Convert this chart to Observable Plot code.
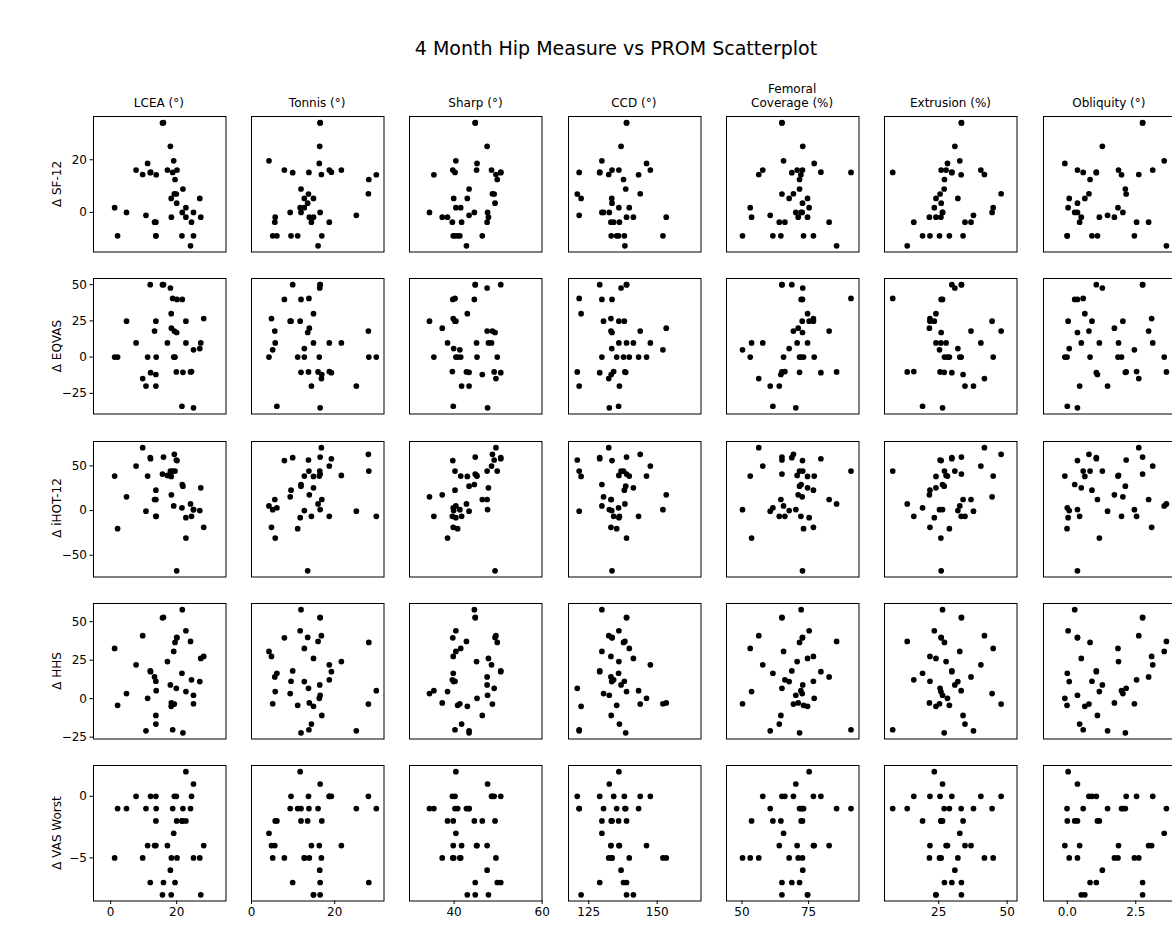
<!DOCTYPE html>
<html><head><meta charset="utf-8">
<script src="https://cdn.jsdelivr.net/npm/d3@7"></script>
<script src="https://cdn.jsdelivr.net/npm/@observablehq/plot@0.6"></script>
<style>
html,body{margin:0;padding:0;background:#fff;overflow:hidden;}
#chart{position:relative;width:1172px;height:928px;overflow:hidden;font-family:"DejaVu Sans",sans-serif;color:#000;}
.title{position:absolute;left:0;width:1232px;top:37px;text-align:center;font-size:19px;line-height:22px;}
.colhead{position:absolute;width:170px;text-align:center;font-size:12px;line-height:13.5px;}
.rowlab{position:absolute;font-size:12px;line-height:14px;white-space:nowrap;transform:translate(-50%,-50%) rotate(-90deg);}
</style></head><body><div id="chart"></div>
<script>
// ---- patient level data ----
const lcea      = [1.2,2.1,4.8,7.7,9.7,10.7,11.2,12.0,12.1,13.3,13.7,13.8,13.7,13.7,16.0,15.7,17.2,18.1,18.35,18.4,18.8,19.1,19.3,19.5,19.9,20.0,20.1,21.6,21.7,21.9,22.8,22.8,24.2,24.5,25.1,25.1,27.0,27.3,28.2];
const tonnis    = [12.7,11.1,9.3,18.7,16.8,25.2,16.3,9.9,19.2,5.6,9.5,30.0,16.9,14.4,16.5,16.5,21.6,16.4,14.9,13.9,13.8,4.2,28.1,28.2,13.7,13.5,7.9,6.1,11.9,11.9,11.7,5.7,16.0,18.7,16.5,5.1,12.7,14.9,4.8];
const sharp     = [41.5,40.8,34.4,48.5,49.5,43.4,45.2,50.6,50.6,47.5,40.2,35.4,46.4,41.7,44.8,44.8,45.1,47.5,43.0,37.3,40.2,40.4,48.7,49.8,49.1,49.3,39.7,39.8,44.6,43.4,40.4,38.5,42.8,39.6,47.6,41.3,39.9,47.8,39.8];
const ccd       = [139.8,135.2,130.4,147.5,132.3,121.5,146.1,129.0,129.0,133.1,138.0,143.2,133.2,136.2,138.8,138.8,136.0,136.8,122.2,153.3,121.5,129.8,143.8,137.7,120.8,133.5,133.5,135.9,129.8,138.5,136.0,138.8,138.2,134.1,132.5,152.1,133.4,141.3,133.1];
const femcov    = [53.1,73.1,72.6,57.8,56.3,60.6,77.1,68.7,79.6,82.7,76.8,72.1,64.6,64.0,65.0,65.0,70.7,72.8,74.6,71.1,90.9,65.6,69.3,71.6,65.0,72.7,72.7,61.6,72.2,71.6,75.2,53.6,85.5,66.1,70.2,50.2,67.7,74.6,76.8];
const extrusion = [44.9,28.9,44.5,40.4,41.7,37.7,28.2,29.8,29.8,36.8,21.8,33.2,33.9,34.6,33.3,33.3,27.7,30.9,24.0,21.6,8.2,32.7,47.8,27.1,25.5,25.9,25.9,19.1,26.4,27.0,23.4,25.8,13.5,15.9,26.4,25.3,32.0,24.0,21.8];
const obliquity = [1.85,-0.01,2.03,3.12,2.61,1.47,-0.09,1.06,1.06,2.97,0.9,1.98,1.1,0.45,2.75,2.75,1.87,1.28,0.64,1.72,0.58,3.54,0.79,0.83,2.15,0.37,0.37,0.0,0.27,2.12,0.03,1.17,3.62,2.53,0.37,2.45,0.07,0.51,3.08];
const sf12      = [1.8,-8.9,0,16.1,14.4,-1.1,18.6,15.1,15.3,-3.7,-8.9,14.3,-8.9,-3.7,34.1,34,16.1,25.1,5.3,-1.8,15.2,19.6,7.1,12.5,7.0,3.5,16.1,-8.9,0,8.9,1.8,-1.8,-12.7,-3.7,0,-8.9,5.3,-1.8,null];
const eqvas     = [0,0,24.8,9.8,-14.8,-20,0,50,-10.7,18,24.8,0,-12,-20,50,50,9.8,47.7,30,20,40.5,0,18,0,-10.2,17,39.8,-33.9,39.8,-10.5,24.8,9.8,-10.2,-10,-35,5,5.9,9.8,26.6];
const ihot12    = [38.6,-20.2,15.4,49.8,70.4,-0.7,38.6,59.2,58,12.4,22.8,-6.4,12.4,-6.4,59.9,40.8,39.3,44.2,38.2,17.6,44.2,5.2,62.9,44.2,56.6,-67.4,56,3,29.2,27.3,-7.9,-30.7,7.5,-6.4,1.1,1,0,25.5,-18.7];
const hhs       = [32.6,-4.3,3.3,22,40.9,-20.9,0.2,18,17.5,14.1,11.3,5.2,-10.9,-16.5,52.8,52.5,24.1,8.9,-5,-2.8,-20.2,30.7,-3.5,36.5,6.7,39.8,39.5,16.5,57.8,-22.2,44.1,4.6,37.2,12.2,2.2,-3.3,11.1,26.1,27.4];
const vasWorst  = [-5,-1,-1,0,-5,-1,-4,-7,0,-4,0,-1,-2,-4,-7,-8,-4,-6,-8,-5,-1,-3,0,-7,0,-2,-5,-2,-2,-1,2,-2,-1,0,1,-5,-5,-8,-4];

// ---- labels and ticks ----
const measureKeys   = ["lcea","tonnis","sharp","ccd","femcov","extrusion","obliquity"];
const measureLabels = ["LCEA (°)","Tonnis (°)","Sharp (°)","CCD (°)","Femoral\nCoverage (%)","Extrusion (%)","Obliquity (°)"];
const measureTicks  = [[0,20],[0,20],[40,60],[125,150],[50,75],[25,50],[0,2.5]];
const measureDomains= [[-5.2,34.95],[0,31.85],[29.86,59.97],[117.6,166.0],[44.2,93.9],[5.2,53.6],[-0.87,3.97]];
const promKeys      = ["sf12","eqvas","ihot12","hhs","vasWorst"];
const promLabels    = ["Δ SF-12","Δ EQVAS","Δ iHOT-12","Δ HHS","Δ VAS Worst"];
const promTicks     = [[0,20],[-25,0,25,50],[-50,0,50],[-25,0,25,50],[-5,0]];
const promDomains   = [[-15.04,36.44],[-39.25,54.25],[-74.3,77.3],[-26.2,61.8],[-8.5,2.5]];
const titleText     = "4 Month Hip Measure vs PROM Scatterplot";

const patients = lcea.map((v, i) => ({
  lcea: v, tonnis: tonnis[i], sharp: sharp[i], ccd: ccd[i], femcov: femcov[i],
  extrusion: extrusion[i], obliquity: obliquity[i],
  sf12: sf12[i], eqvas: eqvas[i], ihot12: ihot12[i], hhs: hhs[i], vasWorst: vasWorst[i]
}));

const chart = document.getElementById("chart");
const W = 132.5, H = 135.5;
const colLeft = c => 92.6 + c * 158.33;
const rowTop = r => 116 + r * 162.25;
const intFmt = d3.format("d");
const xFormats = measureKeys.map((k, c) => c === 6 ? d3.format(".1f") : d3.format("d"));

const t = document.createElement("div");
t.className = "title"; t.textContent = titleText; chart.appendChild(t);

measureLabels.forEach((lab, c) => {
  const d = document.createElement("div");
  d.className = "colhead";
  d.style.left = (colLeft(c) + W / 2 - 85) + "px";
  d.style.bottom = (928 - 110) + "px";
  d.innerHTML = lab.split("\n").join("<br>");
  chart.appendChild(d);
});
promLabels.forEach((lab, r) => {
  const d = document.createElement("div");
  d.className = "rowlab";
  d.style.left = "57px";
  d.style.top = (rowTop(r) + H / 2) + "px";
  d.textContent = lab;
  chart.appendChild(d);
});

for (let r = 0; r < 5; r++) {
  for (let c = 0; c < 7; c++) {
    const ML = c === 0 ? 45 : 2, MR = 2, MT = 2, MB = r === 4 ? 30 : 2;
    const svg = Plot.plot({
      width: W + ML + MR, height: H + MT + MB,
      marginLeft: ML, marginRight: MR, marginTop: MT, marginBottom: MB,
      style: {background: "transparent", fontFamily: "DejaVu Sans", fontSize: "12px", color: "#000", overflow: "visible"},
      x: {domain: measureDomains[c], axis: r === 4 ? "bottom" : null, ticks: measureTicks[c], tickFormat: xFormats[c], tickSize: 3.5, tickPadding: 3, label: null},
      y: {domain: promDomains[r], axis: c === 0 ? "left" : null, ticks: promTicks[r], tickFormat: intFmt, tickSize: 3.5, tickPadding: 3, label: null},
      marks: [
        Plot.frame({stroke: "#000", strokeWidth: 1}),
        Plot.dot(patients, {x: measureKeys[c], y: promKeys[r], r: 2.85, fill: "#000", stroke: "none"})
      ]
    });
    svg.style.position = "absolute";
    svg.style.left = (colLeft(c) - ML) + "px";
    svg.style.top = (rowTop(r) - MT) + "px";
    svg.style.maxWidth = "none";
    chart.appendChild(svg);
  }
}
</script></body></html>
